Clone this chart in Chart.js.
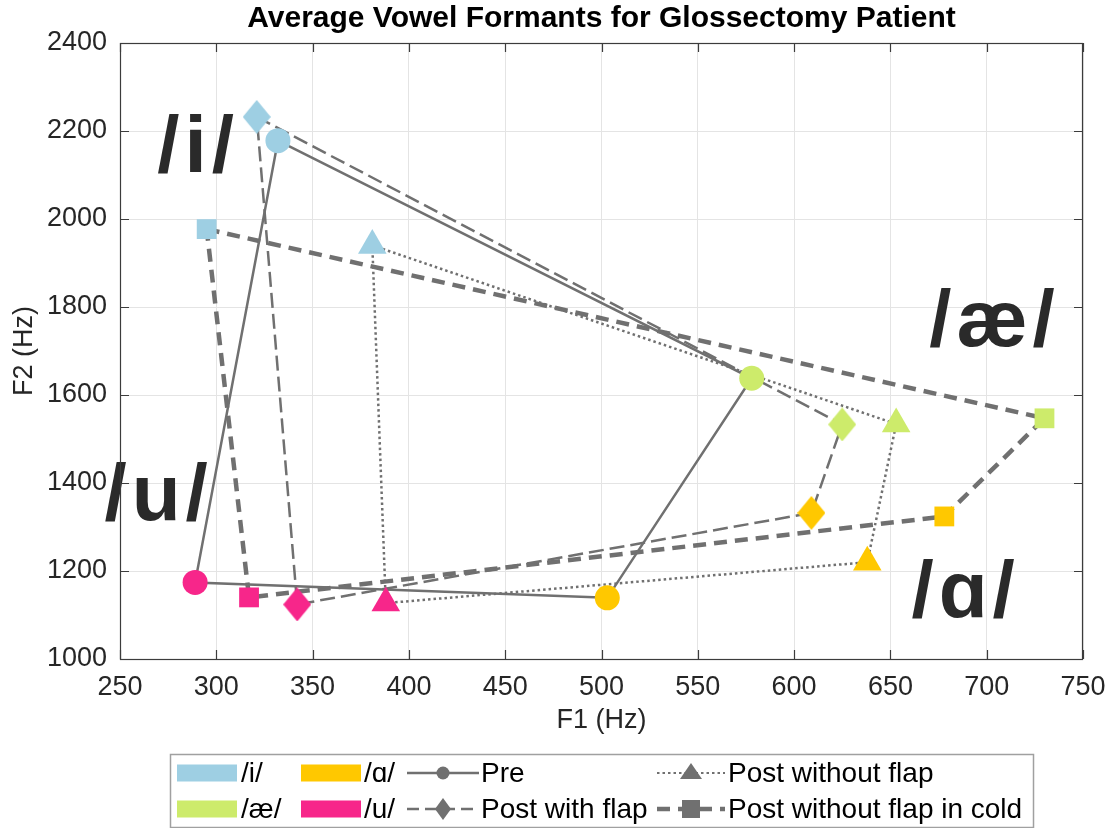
<!DOCTYPE html>
<html>
<head>
<meta charset="utf-8">
<script src="https://cdn.jsdelivr.net/npm/chart.js@4.4.1/dist/chart.umd.min.js"></script>
<style>
  html, body { margin: 0; padding: 0; background: #ffffff; }
  #wrap { width: 1111px; height: 828px; position: relative; }
</style>
</head>
<body>
<div id="wrap"><canvas id="c" width="1111" height="828"></canvas></div>
<script>
// Vowels (order of each polygon) and their colours
const vowels = ['/i/', '/æ/', '/ɑ/', '/u/'];
const vowelColors = ['#9ecfe3', '#cdeb6b', '#ffc800', '#f7268a'];

// Recording conditions
const conditions = ['Pre', 'Post with flap', 'Post without flap', 'Post without flap in cold'];

// Average F1 / F2 (Hz) per vowel, in the order of `vowels`
const f1Pre      = [332, 578, 503, 289];
const f2Pre      = [2178, 1638, 1139, 1174];
const f1Flap     = [321, 625, 609, 342];
const f2Flap     = [2232, 1533, 1332, 1124];
const f1NoFlap   = [381, 653, 638, 388];
const f2NoFlap   = [1940, 1534, 1220, 1127];
const f1Cold     = [295, 730, 678, 317];
const f2Cold     = [1977, 1547, 1324, 1140];

// Axis ranges
const xRange = [250, 750, 50];
const yRange = [1000, 2400, 200];

// Big vowel labels placed in data units
const vowelLabelF1 = [289.5, 703, 688, 269];
const vowelLabelF2 = [2107, 1711, 1095, 1316];

const LINE_GRAY = '#707070';
const TEXT_DARK = '#262626';
const FONT = "'Liberation Sans', Arial, Helvetica, sans-serif";

function makeDiamond(color, w, h) {
  const cv = document.createElement('canvas');
  cv.width = w; cv.height = h;
  const g = cv.getContext('2d');
  g.fillStyle = color;
  g.beginPath();
  g.moveTo(w / 2, 0); g.lineTo(w, h / 2); g.lineTo(w / 2, h); g.lineTo(0, h / 2);
  g.closePath(); g.fill();
  return cv;
}
const diamonds = vowelColors.map(c => makeDiamond(c, 28, 34));

function pts(f1, f2) { return f1.map((x, i) => ({ x, y: f2[i] })); }
function loop(f1, f2) { const p = pts(f1, f2); p.push(p[0]); return p; }

const series = [
  { name: conditions[0], f1: f1Pre,    f2: f2Pre,    style: 'circle',   radius: 12.5, width: 2.5, dash: [] },
  { name: conditions[1], f1: f1Flap,   f2: f2Flap,   style: diamonds,   radius: 14,   width: 2.5, dash: [15, 6] },
  { name: conditions[2], f1: f1NoFlap, f2: f2NoFlap, style: 'triangle', radius: 16.5, width: 2.5, dash: [2.5, 3] },
  { name: conditions[3], f1: f1Cold,   f2: f2Cold,   style: 'rect',     radius: 14,   width: 4.5, dash: [13, 8] }
];

const datasets = [];
series.forEach(s => {
  datasets.push({
    label: s.name + ' (path)',
    data: loop(s.f1, s.f2),
    showLine: true,
    borderColor: LINE_GRAY,
    borderWidth: s.width,
    borderDash: s.dash,
    borderCapStyle: 'butt',
    pointRadius: 0,
    pointHoverRadius: 0,
    order: 2
  });
});
series.forEach(s => {
  datasets.push({
    label: s.name,
    data: pts(s.f1, s.f2),
    showLine: false,
    pointStyle: s.style,
    pointRadius: s.radius,
    pointHoverRadius: s.radius,
    pointBackgroundColor: vowelColors,
    pointBorderColor: vowelColors,
    pointBorderWidth: 0,
    order: 1
  });
});

// Axes box, inner tick marks, title, vowel labels and legend
const decor = {
  id: 'decor',
  afterDatasetsDraw(chart) {
    const { ctx, scales: { x, y } } = chart;
    ctx.save();
    ctx.fillStyle = '#2a2a2a';
    ctx.font = 'bold 80px ' + FONT;
    ctx.letterSpacing = '5px';
    ctx.textAlign = 'center';
    ctx.textBaseline = 'alphabetic';
    vowels.forEach((v, i) => {
      ctx.fillText(v, x.getPixelForValue(vowelLabelF1[i]) + 2, y.getPixelForValue(vowelLabelF2[i]));
    });
    ctx.restore();
  },
  afterDraw(chart) {
    const { ctx, chartArea: a, scales: { x, y } } = chart;
    ctx.save();
    ctx.strokeStyle = '#3c3c3c';
    ctx.lineWidth = 1.2;
    ctx.strokeRect(a.left + 0.5, a.top + 0.5, a.right - a.left - 1, a.bottom - a.top);
    const tl = 9;
    ctx.beginPath();
    x.ticks.forEach(t => {
      const px = Math.round(x.getPixelForValue(t.value)) + 0.5;
      ctx.moveTo(px, a.bottom); ctx.lineTo(px, a.bottom - tl);
      ctx.moveTo(px, a.top); ctx.lineTo(px, a.top + tl);
    });
    y.ticks.forEach(t => {
      const py = Math.round(y.getPixelForValue(t.value)) + 0.5;
      ctx.moveTo(a.left, py); ctx.lineTo(a.left + tl, py);
      ctx.moveTo(a.right, py); ctx.lineTo(a.right - tl, py);
    });
    ctx.stroke();

    // title
    ctx.fillStyle = '#000000';
    ctx.font = 'bold 30px ' + FONT;
    ctx.textAlign = 'center';
    ctx.textBaseline = 'middle';
    ctx.fillText('Average Vowel Formants for Glossectomy Patient', (a.left + a.right) / 2, 19);

    // legend, centred under the axes
    const box = { x: 170, y: 754, w: 863, h: 73 };
    ctx.fillStyle = '#ffffff';
    ctx.fillRect(box.x, box.y, box.w, box.h);
    ctx.strokeStyle = '#a0a0a0';
    ctx.lineWidth = 1.5;
    ctx.strokeRect(box.x + 0.5, box.y + 0.5, box.w, box.h);
    const rows = [773, 809];
    ctx.font = '28px ' + FONT;
    ctx.textAlign = 'left';
    ctx.textBaseline = 'middle';
    const patchCols = [{ px: 177, tx: 241 }, { px: 301, tx: 364 }];
    const patchOrder = [[0, 1], [2, 3]];
    patchCols.forEach((col, ci) => {
      patchOrder[ci].forEach((vi, ri) => {
        ctx.fillStyle = vowelColors[vi];
        ctx.fillRect(col.px, rows[ri] - 8.5, 60, 17);
        ctx.fillStyle = '#000000';
        ctx.fillText(vowels[vi], col.tx, rows[ri] + 1);
      });
    });
    const lineCols = [{ x0: 407, x1: 479, tx: 481 }, { x0: 657, x1: 725, tx: 728 }];
    const lineOrder = [[0, 1], [2, 3]];
    lineCols.forEach((col, ci) => {
      lineOrder[ci].forEach((si, ri) => {
        const s = series[si];
        const yy = rows[ri];
        ctx.strokeStyle = LINE_GRAY;
        ctx.lineWidth = si === 2 ? 2 : s.width;
        ctx.setLineDash(si === 1 ? [12, 6] : s.dash);
        ctx.beginPath(); ctx.moveTo(col.x0, yy); ctx.lineTo(col.x1, yy); ctx.stroke();
        ctx.setLineDash([]);
        const mx = (col.x0 + col.x1) / 2;
        ctx.fillStyle = LINE_GRAY;
        if (si === 0) {
          ctx.beginPath(); ctx.arc(mx, yy, 6.5, 0, Math.PI * 2); ctx.fill();
        } else if (si === 1) {
          ctx.beginPath(); ctx.moveTo(mx, yy - 11); ctx.lineTo(mx + 8, yy); ctx.lineTo(mx, yy + 11); ctx.lineTo(mx - 8, yy); ctx.closePath(); ctx.fill();
        } else if (si === 2) {
          ctx.beginPath(); ctx.moveTo(mx, yy - 10); ctx.lineTo(mx + 11, yy + 6); ctx.lineTo(mx - 11, yy + 6); ctx.closePath(); ctx.fill();
        } else {
          ctx.fillRect(mx - 9, yy - 9, 18, 18);
        }
        ctx.fillStyle = '#000000';
        ctx.fillText(s.name, col.tx, yy + 1);
      });
    });
    ctx.restore();
  }
};

new Chart(document.getElementById('c'), {
  type: 'scatter',
  data: { datasets },
  options: {
    responsive: false,
    animation: false,
    devicePixelRatio: 1,
    layout: { padding: { top: 43, right: 28, bottom: 79, left: 0 } },
    plugins: { legend: { display: false }, tooltip: { enabled: false }, title: { display: false } },
    scales: {
      x: {
        type: 'linear',
        min: xRange[0], max: xRange[1],
        ticks: { stepSize: xRange[2], color: TEXT_DARK, font: { family: FONT, size: 27 }, padding: 12, maxRotation: 0,
                 callback: v => String(v) },
        grid: { color: '#e4e4e4', lineWidth: 1, drawTicks: false },
        border: { display: false },
        title: { display: true, text: 'F1 (Hz)', color: TEXT_DARK, font: { family: FONT, size: 27 }, padding: { top: 0, bottom: 12 } },
        afterFit(scale) { scale.height = 90; scale.paddingLeft = 0; scale.paddingRight = 0; }
      },
      y: {
        type: 'linear',
        min: yRange[0], max: yRange[1],
        ticks: { stepSize: yRange[2], color: TEXT_DARK, font: { family: FONT, size: 27 }, padding: 13,
                 callback: v => String(v) },
        grid: { color: '#e4e4e4', lineWidth: 1, drawTicks: false },
        border: { display: false },
        title: { display: true, text: 'F2 (Hz)', color: TEXT_DARK, font: { family: FONT, size: 27 }, padding: { top: 8, bottom: 0 } },
        afterFit(scale) { scale.width = 120; }
      }
    }
  },
  plugins: [decor]
});
</script>
</body>
</html>
